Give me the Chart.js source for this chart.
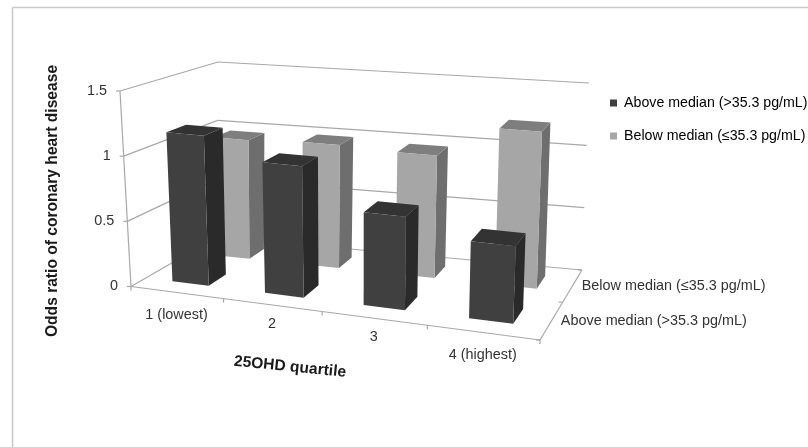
<!DOCTYPE html>
<html>
<head>
<meta charset="utf-8">
<style>
  html, body { margin: 0; padding: 0; background: #fff; overflow: hidden; }
  #wrap { width: 808px; height: 447px; }
</style>
<script src="https://cdn.jsdelivr.net/npm/chart.js@4/dist/chart.umd.min.js"></script>
</head>
<body>
<div id="wrap"><canvas id="chart" width="808" height="447"></canvas></div>
<script>
const quartiles = ['1 (lowest)', '2', '3', '4 (highest)'];
const seriesNames = ['Above median (>35.3 pg/mL)', 'Below median (≤35.3 pg/mL)'];
const aboveMedian = [1.16, 1.0, 0.7, 0.57];
const belowMedian = [0.97, 0.99, 0.97, 1.22];
const yTicks = [0, 0.5, 1, 1.5];

const FONT = '"Liberation Sans", Arial, sans-serif';
const TEXT = '#333333';

// corners of the 3d box on the page, named [across][depth][height]
const box = {
    p000: [131, 286.5], p100: [540, 340], p010: [217, 237], p110: [582, 270],
    p001: [120, 91], p101: [548, 131], p011: [218, 62], p111: [589, 83],
};
// perspective squeeze along the category and depth axes
const warp = (t, k) => t / (t + k * (1 - t));
const mix = (a, b, t) => [a[0] + (b[0] - a[0]) * t, a[1] + (b[1] - a[1]) * t];

const project = (u, v, w) => {
    const uu = warp(u, 1.14), vv = warp(v, 0.85);
    const low = mix(mix(box.p000, box.p100, uu), mix(box.p010, box.p110, uu), vv);
    const high = mix(mix(box.p001, box.p101, uu), mix(box.p011, box.p111, uu), vv);
    return mix(low, high, w);
};

const poly = (ctx, pts, fill) => {
    ctx.beginPath();
    pts.forEach((p, i) => i ? ctx.lineTo(p[0], p[1]) : ctx.moveTo(p[0], p[1]));
    ctx.closePath();
    ctx.fillStyle = fill;
    ctx.fill();
};
const line = (ctx, a, b) => {
    ctx.beginPath();
    ctx.moveTo(a[0], a[1]);
    ctx.lineTo(b[0], b[1]);
    ctx.stroke();
};

const faces = [
    { front: '#404040', side: '#2a2a2a', top: '#333333' },
    { front: '#a6a6a6', side: '#6e6e6e', top: '#7e7e7e' },
];

// turns the flat chart into the 3d one, positions still come from the scales
const box3d = {
    id: 'box3d',
    afterLayout(chart) {
        // legend sits above the 3d box, not beside a plot area
        chart.legend.left = 610 - chart.options.plugins.legend.labels.padding;
        chart.legend.top = 77;
    },
    beforeDatasetsDraw(chart) {
        const { ctx, scales: { x, y } } = chart;
        ctx.save();
        ctx.strokeStyle = '#c8c8c8';
        ctx.lineWidth = 1.5;
        line(ctx, [12.5, 447], [12.5, 7.5]);
        line(ctx, [12.5, 7.5], [808, 7.5]);

        // walls and floor
        ctx.strokeStyle = '#a8a8a8';
        ctx.lineWidth = 1.2;
        const wFrac = (val) => (y.bottom - y.getPixelForValue(val)) / y.height;
        y.ticks.forEach((t) => {
            const w = wFrac(t.value);
            line(ctx, project(0, 0, w), project(0, 1, w));
            line(ctx, project(0, 1, w), project(1, 1, w));
            line(ctx, project(0, 0, w), [project(0, 0, w)[0] - 4, project(0, 0, w)[1]]);
        });
        line(ctx, project(0, 0, 0), project(0, 0, 1));
        line(ctx, project(0, 0, 0), project(1, 0, 0));
        line(ctx, project(1, 0, 0), project(1, 1, 0));
        [0, 1, 2, 3, 4].forEach((i) => {
            const p = project(i / 4, 0, 0);
            line(ctx, p, [p[0], p[1] + 4]);
        });
        [0, 0.5, 1].forEach((v) => {
            const p = project(1, v, 0);
            line(ctx, p, [p[0] - 4, p[1]]);
        });

        // back row first so the front row covers it
        [1, 0].forEach((ds) => {
            const c = faces[ds];
            const v0 = ds * 0.5 + 0.15, v1 = v0 + 0.2;
            chart.getDatasetMeta(ds).data.forEach((bar) => {
                const u0 = (bar.x - bar.width / 2 - x.left) / x.width;
                const u1 = (bar.x + bar.width / 2 - x.left) / x.width;
                const w = (bar.base - bar.y) / y.height;
                const a = project(u0, v0, 0), b = project(u1, v0, 0), d = project(u1, v1, 0);
                const at = project(u0, v0, w), bt = project(u1, v0, w);
                const ct = project(u0, v1, w), dt = project(u1, v1, w);
                poly(ctx, [b, d, dt, bt], c.side);
                poly(ctx, [at, bt, dt, ct], c.top);
                poly(ctx, [a, b, bt, at], c.front);
            });
        });
        ctx.restore();
    },
    afterDatasetsDraw(chart) {
        const { ctx, scales: { x, y } } = chart;
        ctx.save();
        ctx.fillStyle = TEXT;
        ctx.textBaseline = 'middle';
        ctx.font = '14.4px ' + FONT;

        ctx.textAlign = 'right';
        y.ticks.forEach((t) => {
            const p = project(0, 0, (y.bottom - y.getPixelForValue(t.value)) / y.height);
            ctx.fillText(String(t.value), p[0] - 13, p[1]);
        });

        ctx.textAlign = 'center';
        quartiles.forEach((label, i) => {
            const u = (x.getPixelForValue(i) - x.left) / x.width;
            const p = project(u, 0, 0);
            ctx.fillText(label, p[0], p[1] + (label.length > 1 ? 23 : 19));
        });

        ctx.textAlign = 'left';
        seriesNames.forEach((label, i) => {
            const p = project(1, 0.25 + i * 0.5, 0);
            ctx.fillText(label, p[0] + 9, p[1] + 1);
        });

        ctx.fillStyle = '#1a1a1a';
        ctx.font = 'bold 15.6px ' + FONT;
        ctx.textAlign = 'center';
        ctx.save();
        ctx.translate(53, 201);
        ctx.rotate(-Math.PI / 2);
        ctx.fillText('Odds ratio of coronary heart disease', 0, 0);
        ctx.restore();
        ctx.save();
        ctx.translate(290, 367);
        ctx.rotate(5.7 * Math.PI / 180);
        ctx.fillText('25OHD quartile', 0, 0);
        ctx.restore();
        ctx.restore();
    },
};

new Chart(document.getElementById('chart'), {
    type: 'bar',
    data: {
        labels: quartiles,
        datasets: [
            { label: seriesNames[0], data: aboveMedian, backgroundColor: 'rgba(0,0,0,0)', borderWidth: 0 },
            { label: seriesNames[1], data: belowMedian, backgroundColor: 'rgba(0,0,0,0)', borderWidth: 0 },
        ],
    },
    options: {
        responsive: false,
        animation: false,
        categoryPercentage: 1,
        barPercentage: 0.4,
        grouped: false,
        scales: {
            x: { display: false },
            y: { display: false, min: yTicks[0], max: yTicks[yTicks.length - 1], ticks: { stepSize: 0.5 } },
        },
        plugins: {
            tooltip: { enabled: false },
            legend: {
                position: 'right',
                align: 'start',
                labels: {
                    boxWidth: 7,
                    boxHeight: 7,
                    padding: 18.8,
                    color: TEXT,
                    font: { family: FONT, size: 14.2 },
                    generateLabels: () => seriesNames.map((text, i) => ({
                        text, fillStyle: faces[i].front, strokeStyle: faces[i].front, lineWidth: 0, datasetIndex: i,
                    })),
                },
            },
        },
    },
    plugins: [box3d],
});
</script>
</body>
</html>
